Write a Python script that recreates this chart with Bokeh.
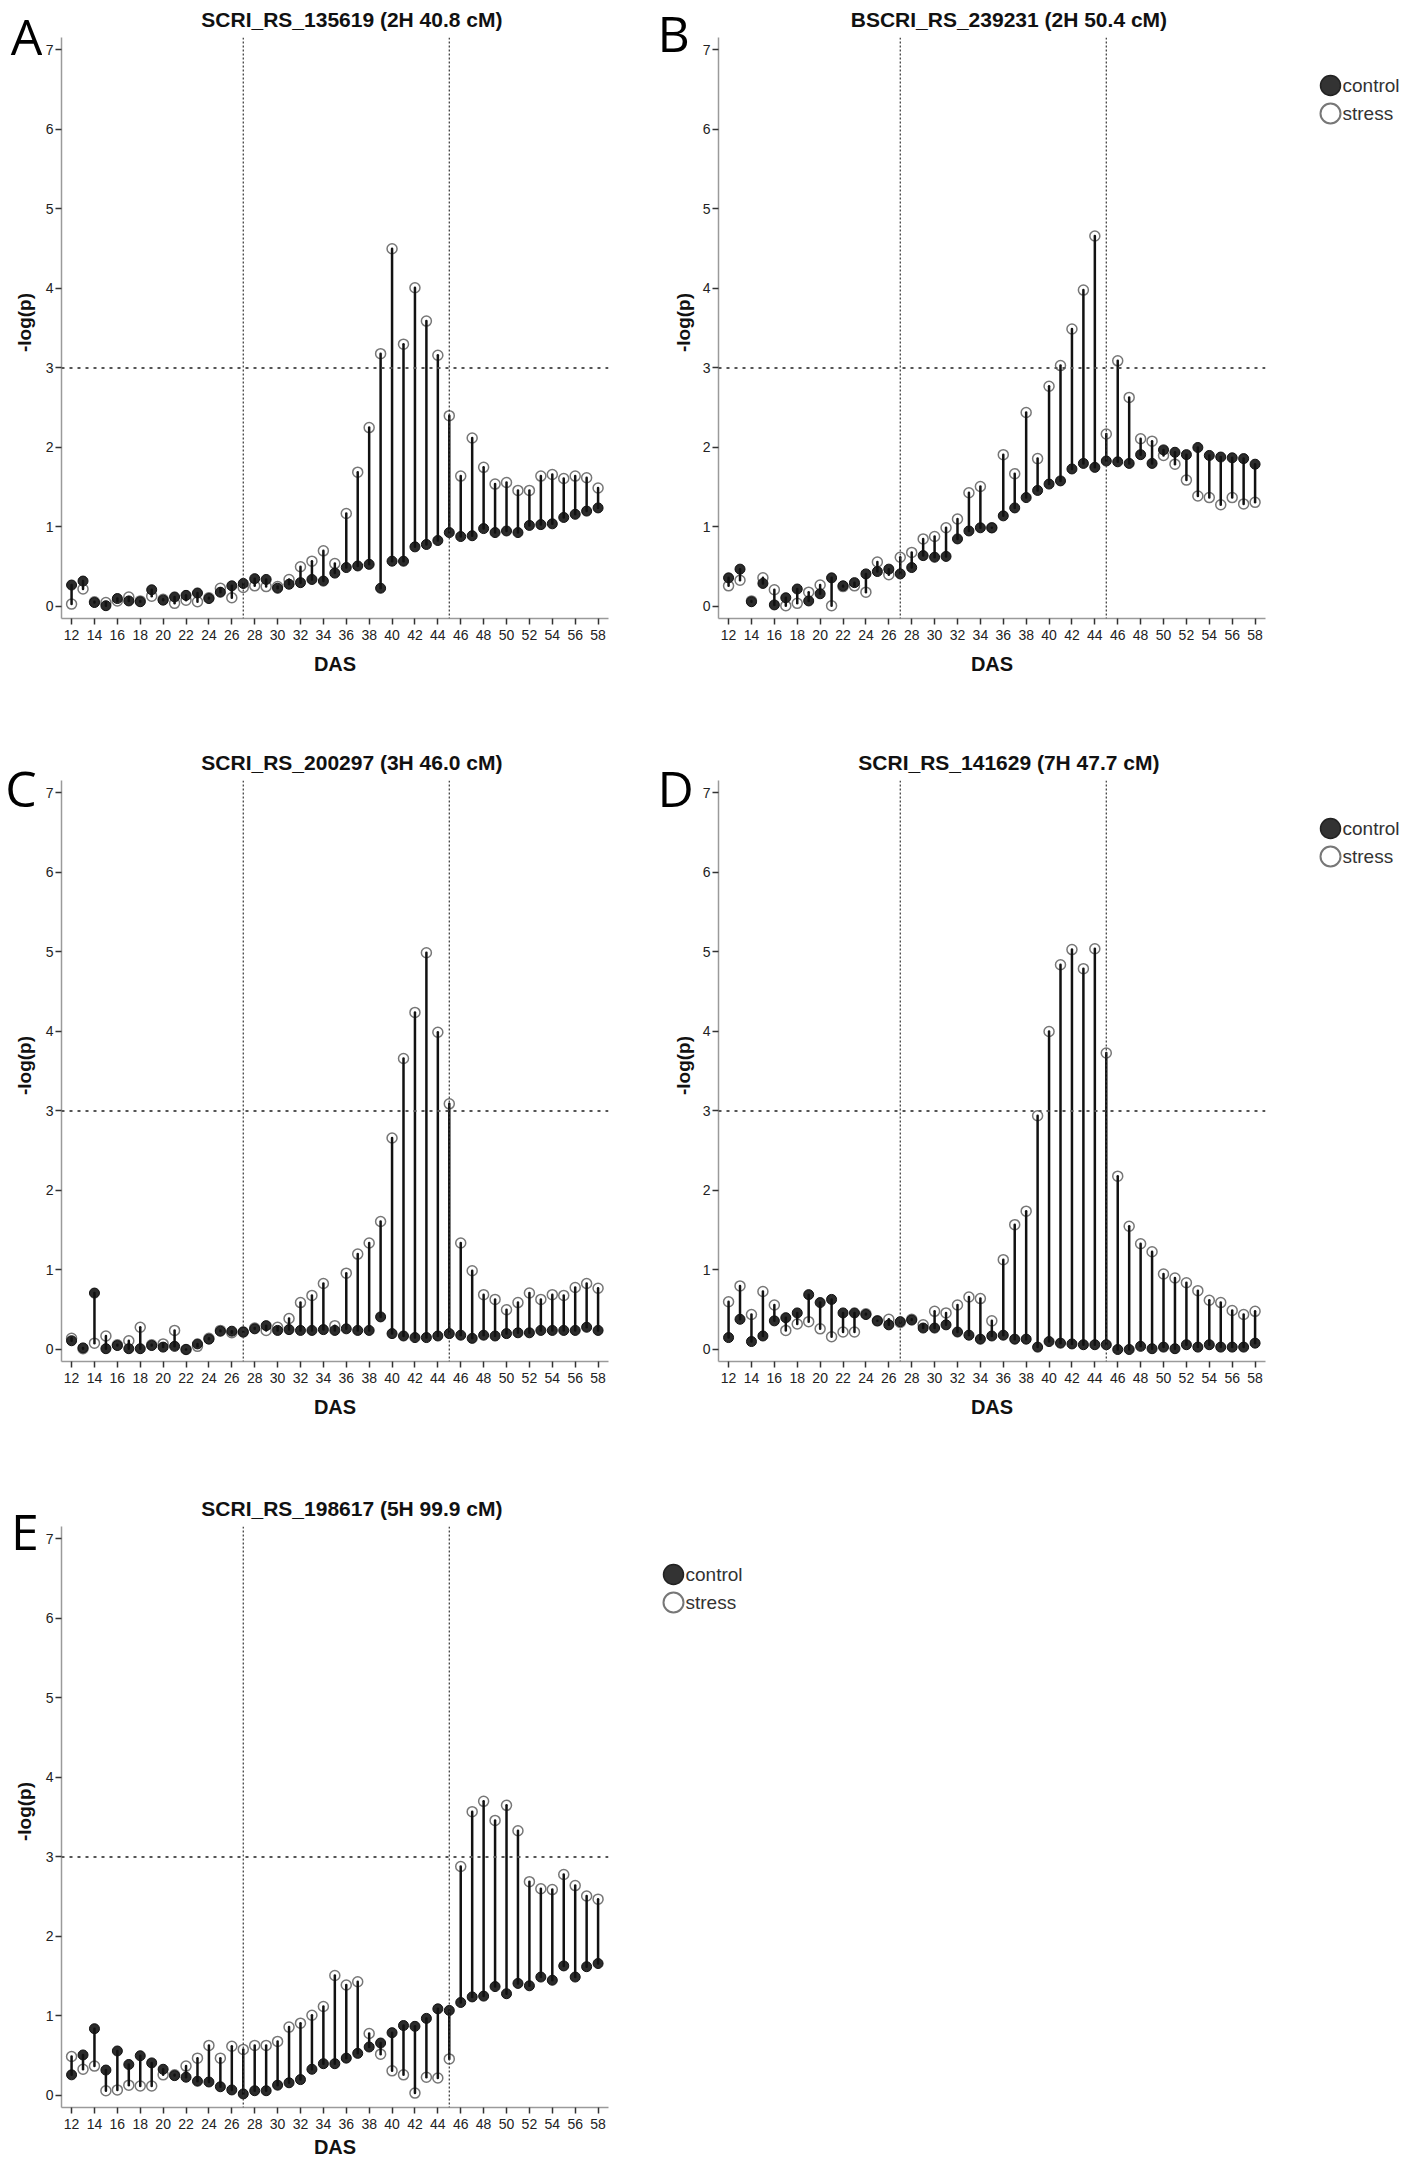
import math
from bokeh.plotting import figure
from bokeh.models import Span, FixedTicker, Range1d
from bokeh.layouts import row, column
from bokeh.embed import file_html
from bokeh.resources import INLINE
from bokeh.core.properties import value

DAS = list(range(12, 59))
x_ticks = list(range(12, 59, 2))
y_ticks = [0, 1, 2, 3, 4, 5, 6, 7]
threshold = 3
phase_bounds = [27, 45]

titles = ["SCRI_RS_135619 (2H 40.8 cM)", "BSCRI_RS_239231 (2H 50.4 cM)",
          "SCRI_RS_200297 (3H 46.0 cM)", "SCRI_RS_141629 (7H 47.7 cM)",
          "SCRI_RS_198617 (5H 99.9 cM)"]
letters = ["A", "B", "C", "D", "E"]
legend_labels = ["control", "stress"]
x_label = "DAS"
y_label = "-log(p)"

a_control = [0.27, 0.32, 0.05, 0.01, 0.10, 0.07, 0.06, 0.21, 0.08, 0.12, 0.14, 0.17, 0.10, 0.18, 0.26, 0.29,
             0.35, 0.34, 0.23, 0.28, 0.30, 0.34, 0.32, 0.42, 0.49, 0.51, 0.53, 0.23, 0.57, 0.57, 0.75, 0.78,
             0.83, 0.93, 0.88, 0.89, 0.98, 0.93, 0.95, 0.93, 1.02, 1.03, 1.04, 1.12, 1.16, 1.20, 1.24]
a_stress = [0.03, 0.22, 0.06, 0.05, 0.07, 0.12, 0.07, 0.13, 0.09, 0.04, 0.08, 0.06, 0.11, 0.23, 0.11, 0.24,
            0.26, 0.25, 0.25, 0.34, 0.50, 0.57, 0.70, 0.54, 1.17, 1.69, 2.25, 3.18, 4.50, 3.30, 4.01, 3.59,
            3.16, 2.40, 1.64, 2.12, 1.75, 1.54, 1.56, 1.46, 1.46, 1.64, 1.66, 1.61, 1.64, 1.62, 1.49]

b_control = [0.36, 0.47, 0.06, 0.29, 0.02, 0.11, 0.22, 0.07, 0.16, 0.36, 0.26, 0.30, 0.41, 0.44, 0.47, 0.41,
             0.49, 0.64, 0.62, 0.63, 0.85, 0.95, 0.99, 0.99, 1.14, 1.24, 1.37, 1.46, 1.54, 1.58, 1.73, 1.80,
             1.75, 1.83, 1.82, 1.80, 1.91, 1.80, 1.97, 1.94, 1.91, 2.00, 1.90, 1.88, 1.87, 1.86, 1.79]
b_stress = [0.26, 0.33, 0.07, 0.36, 0.21, 0.01, 0.04, 0.18, 0.27, 0.01, 0.25, 0.26, 0.18, 0.56, 0.40, 0.62,
            0.68, 0.85, 0.88, 0.99, 1.10, 1.43, 1.51, 0.99, 1.91, 1.67, 2.44, 1.86, 2.77, 3.03, 3.49, 3.98,
            4.66, 2.17, 3.09, 2.63, 2.11, 2.08, 1.90, 1.79, 1.59, 1.39, 1.37, 1.28, 1.37, 1.29, 1.31]

c_control = [0.11, 0.02, 0.71, 0.01, 0.05, 0.01, 0.01, 0.05, 0.03, 0.04, 0.00, 0.07, 0.13, 0.23, 0.23, 0.22,
             0.26, 0.30, 0.24, 0.25, 0.24, 0.24, 0.25, 0.24, 0.26, 0.24, 0.24, 0.41, 0.20, 0.17, 0.15, 0.15,
             0.17, 0.20, 0.18, 0.14, 0.18, 0.17, 0.20, 0.21, 0.21, 0.24, 0.24, 0.24, 0.24, 0.28, 0.24]
c_stress = [0.14, 0.01, 0.08, 0.17, 0.06, 0.11, 0.28, 0.06, 0.07, 0.24, 0.00, 0.04, 0.14, 0.24, 0.21, 0.22,
            0.27, 0.24, 0.28, 0.39, 0.59, 0.68, 0.83, 0.30, 0.96, 1.20, 1.34, 1.61, 2.66, 3.66, 4.24, 4.99,
            3.99, 3.09, 1.34, 0.99, 0.69, 0.63, 0.50, 0.59, 0.71, 0.63, 0.69, 0.68, 0.78, 0.83, 0.77]

d_control = [0.15, 0.38, 0.10, 0.17, 0.36, 0.40, 0.46, 0.69, 0.59, 0.63, 0.46, 0.46, 0.44, 0.36, 0.31, 0.35,
             0.37, 0.27, 0.27, 0.31, 0.22, 0.18, 0.13, 0.17, 0.18, 0.13, 0.13, 0.03, 0.10, 0.08, 0.07, 0.06,
             0.06, 0.06, 0.00, 0.00, 0.04, 0.01, 0.03, 0.01, 0.06, 0.03, 0.06, 0.03, 0.03, 0.03, 0.08]
d_stress = [0.60, 0.80, 0.44, 0.73, 0.56, 0.24, 0.32, 0.35, 0.26, 0.16, 0.22, 0.22, 0.45, 0.36, 0.38, 0.34,
            0.38, 0.31, 0.48, 0.46, 0.56, 0.66, 0.64, 0.36, 1.13, 1.57, 1.74, 2.94, 4.00, 4.84, 5.03, 4.79,
            5.04, 3.73, 2.18, 1.55, 1.33, 1.23, 0.95, 0.90, 0.84, 0.74, 0.62, 0.59, 0.49, 0.44, 0.48]

e_control = [0.26, 0.51, 0.84, 0.32, 0.56, 0.39, 0.50, 0.41, 0.33, 0.25, 0.23, 0.18, 0.17, 0.11, 0.07, 0.02,
             0.06, 0.06, 0.13, 0.16, 0.20, 0.33, 0.40, 0.40, 0.47, 0.53, 0.61, 0.66, 0.79, 0.88, 0.87, 0.97,
             1.09, 1.07, 1.17, 1.24, 1.25, 1.37, 1.28, 1.41, 1.38, 1.49, 1.45, 1.63, 1.49, 1.62, 1.66]
e_stress = [0.49, 0.33, 0.37, 0.06, 0.07, 0.13, 0.12, 0.12, 0.26, 0.26, 0.37, 0.47, 0.63, 0.47, 0.62, 0.58,
            0.63, 0.63, 0.68, 0.86, 0.91, 1.01, 1.12, 1.51, 1.39, 1.43, 0.78, 0.52, 0.31, 0.26, 0.03, 0.23,
            0.22, 0.46, 2.88, 3.57, 3.70, 3.46, 3.65, 3.33, 2.69, 2.60, 2.59, 2.78, 2.64, 2.51, 2.47]

FONT = "Liberation Sans"
STRIP_W = 42
PANEL_W = 615
HEAD_H = 37
LEG_W = 87


def bare(width, height):
    f = figure(width=width, height=height, output_backend="svg", toolbar_location=None,
               x_range=Range1d(0, width), y_range=Range1d(0, height), min_border=0,
               x_axis_type=None, y_axis_type=None)
    f.outline_line_color = None
    return f


def strip(height, letter, lx, lbase, ylab_x, ylab_ctr, align="center"):
    s = bare(STRIP_W, height)
    s.text(x=[lx], y=[height - lbase], text=[letter], text_font=value("Open Sans"),
           text_font_size="50px", text_align=align, text_baseline="alphabetic",
           text_color="#000000")
    s.text(x=[ylab_x], y=[height - ylab_ctr], text=[y_label], angle=math.pi / 2,
           text_font=value(FONT), text_font_style="bold", text_font_size="19px",
           text_align="center", text_baseline="middle", text_color="#111111")
    return s


def header(title):
    h = bare(PANEL_W, HEAD_H)
    h.text(x=[326.5], y=[HEAD_H - 19], text=[title], text_font=value(FONT),
           text_font_style="bold", text_font_size="21px", text_align="center",
           text_baseline="alphabetic", text_color="#111111")
    return h


def panel(control, stress, height, bottom, xlab_standoff):
    p = figure(width=PANEL_W, height=height, output_backend="svg", toolbar_location=None,
               x_range=Range1d(11.12, 58.91), y_range=Range1d(-0.151, 7.157),
               min_border_left=17, min_border_right=49, min_border_top=0,
               min_border_bottom=bottom)
    p.outline_line_color = None
    p.xgrid.visible = False
    p.ygrid.visible = False

    for ax in (p.xaxis[0], p.yaxis[0]):
        ax.axis_line_color = "#9a9a9a"
        ax.axis_line_width = 1.5
        ax.major_tick_line_color = "#333333"
        ax.major_tick_line_width = 1.5
        ax.major_tick_out = 6
        ax.major_tick_in = 0
        ax.minor_tick_line_color = None
        ax.major_label_text_font = FONT
        ax.major_label_text_font_size = "14px"
        ax.major_label_text_color = "#222222"

    p.xaxis.ticker = FixedTicker(ticks=x_ticks)
    p.yaxis.ticker = FixedTicker(ticks=y_ticks)
    p.xaxis.axis_label = x_label
    p.xaxis.axis_label_text_font = FONT
    p.xaxis.axis_label_text_font_style = "bold"
    p.xaxis.axis_label_text_font_size = "20px"
    p.xaxis.axis_label_text_color = "#111111"
    p.xaxis.major_label_standoff = 5
    p.xaxis.axis_label_standoff = xlab_standoff
    p.yaxis.major_label_standoff = 2

    for b in phase_bounds:
        p.add_layout(Span(location=b, dimension="height", line_color="#333333",
                          line_width=1.2, line_dash="2 2"))
    p.add_layout(Span(location=threshold, dimension="width", line_color="#555555",
                      line_width=2, line_dash="3 5"))

    p.scatter(DAS, stress, size=10, fill_color="white", line_color="#777777", line_width=1.5)
    p.scatter(DAS, control, size=10, fill_color="#2b2b2b", line_color="#111111", line_width=1)
    p.segment(x0=DAS, y0=control, x1=DAS, y1=stress, line_color="#111111",
              line_width=2.5, line_cap="round")
    return p


def legend_fig(height):
    q = figure(width=LEG_W, height=height, output_backend="svg", toolbar_location=None,
               x_range=Range1d(0, LEG_W), y_range=Range1d(height, 0), min_border=0,
               x_axis_type=None, y_axis_type=None)
    q.outline_line_color = None
    q.scatter([16], [85], size=20, fill_color="#333333", line_color="#222222", line_width=1.5)
    q.scatter([16], [113], size=20, fill_color="white", line_color="#777777", line_width=2)
    q.text(x=[28, 28], y=[85, 113], text=legend_labels, text_font=value(FONT),
           text_font_size="19px", text_baseline="middle", text_align="left", text_color="#333333")
    return q


def block(title, control, stress, height, bottom, xlab_standoff):
    return column(header(title), panel(control, stress, height - HEAD_H, bottom, xlab_standoff))


H1, H2, H3 = 743, 746, 674

row1 = row(strip(H1, letters[0], 26, 35, 24, 322),
           block(titles[0], a_control, a_stress, H1, 125, 10),
           strip(H1, letters[1], 0, 32, 26, 322, align="left"),
           block(titles[1], b_control, b_stress, H1, 125, 10),
           legend_fig(H1))
row2 = row(strip(H2, letters[2], 20.5, 44, 24, 322),
           block(titles[2], c_control, c_stress, H2, 128, 10),
           strip(H2, letters[3], 0, 44, 26, 322, align="left"),
           block(titles[3], d_control, d_stress, H2, 128, 10),
           legend_fig(H2))
row3 = row(strip(H3, letters[4], 24.5, 41, 24, 322),
           block(titles[4], e_control, e_stress, H3, 56, 4),
           legend_fig(H3))

layout = column(row1, row2, row3)

open("out.html", "w").write(file_html(layout, INLINE))
